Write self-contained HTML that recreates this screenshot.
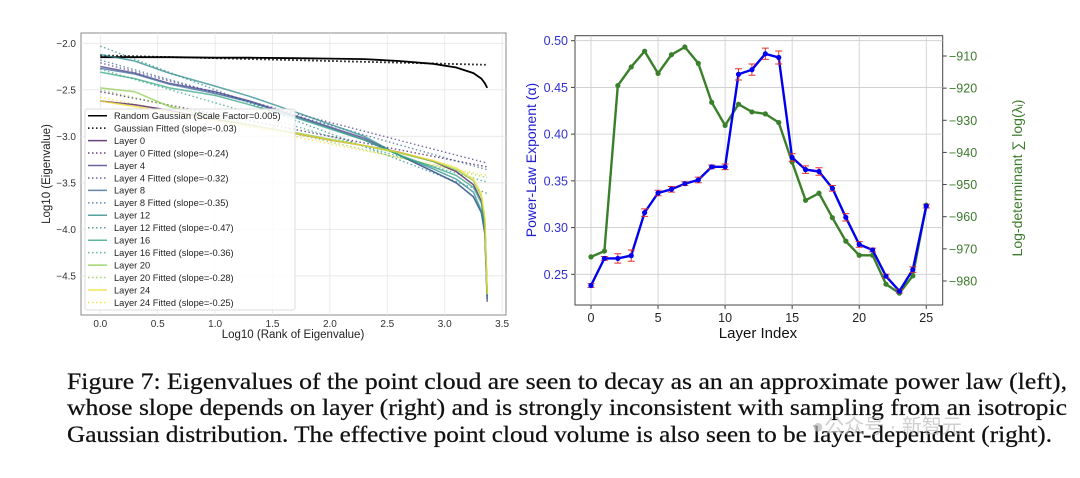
<!DOCTYPE html>
<html><head><meta charset="utf-8"><style>
body{margin:0;background:#fff;width:1080px;height:478px;overflow:hidden}
svg{display:block;font-family:"Liberation Sans","DejaVu Sans",sans-serif}
</style></head><body>
<svg id="s" width="1080" height="478" viewBox="0 0 1080 478">
<g id="left"></g>
<g id="right"></g>
<g font-family="'Liberation Serif',serif" font-size="23.5" fill="#111" stroke="#111" stroke-width="0.25">
<text x="67" y="389" textLength="1000" lengthAdjust="spacingAndGlyphs">Figure 7: Eigenvalues of the point cloud are seen to decay as an an approximate power law (left),</text>
<text x="67" y="415" textLength="1000" lengthAdjust="spacingAndGlyphs">whose slope depends on layer (right) and is strongly inconsistent with sampling from an isotropic</text>
<text x="67" y="442" textLength="985" lengthAdjust="spacingAndGlyphs">Gaussian distribution. The effective point cloud volume is also seen to be layer-dependent (right).</text>
</g>
<text x="812" y="433" font-family="'Liberation Sans','Noto Sans CJK SC',sans-serif" font-size="20" fill="#bbb" opacity="0.7">●公众号 · 新智元</text>
</svg>
<script>
// ---- left chart data ----
const rankX=[0,0.3,0.6,1.0,1.3,1.7,2.0,2.3,2.6,2.9,3.1,3.25,3.32,3.35,3.37];
const gaussY=[-2.15,-2.15,-2.15,-2.155,-2.155,-2.16,-2.165,-2.17,-2.19,-2.22,-2.26,-2.32,-2.38,-2.43,-2.48];
const layer0=[-2.62,-2.66,-2.72,-2.82,-2.88,-2.97,-3.04,-3.10,-3.17,-3.27,-3.38,-3.52,-3.7,-3.95,-4.72];
const layer4=[-2.25,-2.32,-2.43,-2.52,-2.62,-2.78,-2.9,-3.02,-3.2,-3.38,-3.5,-3.65,-3.82,-4.05,-4.78];
const layer8=[-2.27,-2.33,-2.44,-2.54,-2.63,-2.79,-2.91,-3.04,-3.2,-3.38,-3.5,-3.65,-3.82,-4.05,-4.75];
const layer12=[-2.12,-2.19,-2.32,-2.46,-2.57,-2.74,-2.87,-3.00,-3.2,-3.35,-3.46,-3.6,-3.8,-4.0,-4.72];
const layer16=[-2.31,-2.38,-2.48,-2.56,-2.66,-2.8,-2.92,-3.04,-3.2,-3.33,-3.42,-3.55,-3.72,-3.95,-4.7];
const layer20=[-2.48,-2.52,-2.68,-2.80,-2.88,-2.96,-3.03,-3.10,-3.18,-3.27,-3.36,-3.48,-3.65,-3.9,-4.7];
const layer24=[-2.62,-2.68,-2.74,-2.83,-2.89,-2.97,-3.04,-3.10,-3.17,-3.26,-3.34,-3.46,-3.62,-3.88,-4.7];
const fitIntercepts=[-2.13,-2.52,-2.21,-2.18,-2.03,-2.28,-2.50,-2.58];
const fitSlopes=[-0.03,-0.24,-0.32,-0.35,-0.47,-0.36,-0.28,-0.25];
const leftXTicks=[0,0.5,1,1.5,2,2.5,3,3.5];
const leftXTickLabels=["0.0","0.5","1.0","1.5","2.0","2.5","3.0","3.5"];
const leftYTicks=[-2,-2.5,-3,-3.5,-4,-4.5];
const leftYTickLabels=["−2.0","−2.5","−3.0","−3.5","−4.0","−4.5"];
const legendLabels=["Random Gaussian (Scale Factor=0.005)","Gaussian Fitted (slope=-0.03)","Layer 0","Layer 0 Fitted (slope=-0.24)","Layer 4","Layer 4 Fitted (slope=-0.32)","Layer 8","Layer 8 Fitted (slope=-0.35)","Layer 12","Layer 12 Fitted (slope=-0.47)","Layer 16","Layer 16 Fitted (slope=-0.36)","Layer 20","Layer 20 Fitted (slope=-0.28)","Layer 24","Layer 24 Fitted (slope=-0.25)"];
// ---- right chart data ----
const layerIdx=[0,1,2,3,4,5,6,7,8,9,10,11,12,13,14,15,16,17,18,19,20,21,22,23,24,25];
const alphaVals=[0.238,0.267,0.267,0.270,0.316,0.337,0.341,0.347,0.351,0.365,0.365,0.464,0.469,0.486,0.482,0.375,0.362,0.360,0.342,0.311,0.282,0.276,0.248,0.232,0.255,0.323];
const alphaErr=[0.002,0.002,0.005,0.006,0.004,0.003,0.003,0.002,0.003,0.002,0.003,0.006,0.006,0.006,0.007,0.004,0.004,0.004,0.003,0.004,0.003,0.002,0.002,0.002,0.003,0.002];
const logdetVals=[-972.5,-970.7,-919.2,-913.4,-908.5,-915.4,-909.6,-907.2,-912.3,-924.4,-931.6,-925.0,-927.4,-928.0,-930.7,-943.0,-954.9,-952.7,-960.3,-967.6,-972.0,-972.0,-981.0,-983.8,-978.4,-956.4];
const rightXTicks=[0,5,10,15,20,25];
const alphaTicks=[0.25,0.30,0.35,0.40,0.45,0.50];
const alphaTickLabels=["0.25","0.30","0.35","0.40","0.45","0.50"];
const logdetTicks=[-910,-920,-930,-940,-950,-960,-970,-980];
const logdetTickLabels=["−910","−920","−930","−940","−950","−960","−970","−980"];

const NS="http://www.w3.org/2000/svg";
function mk(p,t,a){const e=document.createElementNS(NS,t);for(const k in a)e.setAttribute(k,a[k]);p.appendChild(e);return e;}
const L=document.getElementById('left'),R=document.getElementById('right');
const lx=v=>100.3+v*114.8, ly=v=>43.3+(-2-v)*93;
let e;
e=mk(L,'rect',{x:81,y:33,width:425,height:282,fill:'#fff',stroke:'#888','stroke-width':1});

leftXTicks.forEach((t,i)=>{
 mk(L,'line',{x1:lx(t),x2:lx(t),y1:33,y2:315,stroke:'#e6e6e6','stroke-width':0.8});
 e=mk(L,'text',{x:lx(t),y:327,'font-size':10,'text-anchor':'middle',fill:'#333'});e.textContent=leftXTickLabels[i];
 
});
leftYTicks.forEach((t,i)=>{
 mk(L,'line',{x1:81,x2:506,y1:ly(t),y2:ly(t),stroke:'#e6e6e6','stroke-width':0.8});
 e=mk(L,'text',{x:76,y:ly(t)+3.5,'font-size':10,'text-anchor':'end',fill:'#333'});e.textContent=leftYTickLabels[i];
 
});
e=mk(L,'text',{x:293,y:338,'font-size':11.5,'text-anchor':'middle',fill:'#222'});e.textContent='Log10 (Rank of Eigenvalue)';

e=mk(L,'text',{x:0,y:0,'font-size':11.5,'text-anchor':'middle',fill:'#222',transform:'translate(50,174) rotate(-90)'});e.textContent='Log10 (Eigenvalue)';

const colors=['#000','#46115e','#4a3a8a','#3d6b98','#2c8a8c','#35a586','#8ccc4e','#f3de2c'];
const series=[gaussY,layer0,layer4,layer8,layer12,layer16,layer20,layer24];
fitSlopes.forEach((s,i)=>{
 e=mk(L,'line',{x1:lx(0),y1:ly(fitIntercepts[i]),x2:lx(3.37),y2:ly(fitIntercepts[i]+s*3.37),stroke:colors[i],'stroke-width':i?1.4:1.8,'stroke-dasharray':'1.5 2.5',opacity:i?0.75:1});
 
});
series.forEach((ser,i)=>{
 const d=ser.map((v,j)=>(j?'L':'M')+lx(rankX[j]).toFixed(1)+','+ly(v).toFixed(1)).join('');
 e=mk(L,'path',{d:d,fill:'none',stroke:colors[i],'stroke-width':i?1.5:1.8,opacity:i?0.75:1});
 
});
e=mk(L,'rect',{x:85,y:109,width:210,height:201,fill:'#fff','fill-opacity':0.85,stroke:'#ddd',rx:2});

legendLabels.forEach((t,i)=>{
 const y=115.7+i*12.45, c=colors[Math.floor(i/2)];
 mk(L,'line',{x1:88,x2:107,y1:y,y2:y,stroke:c,'stroke-width':1.5,'stroke-dasharray':i%2?'1.5 2.5':'none',opacity:i<2?1:0.8});
 e=mk(L,'text',{x:114,y:y+3.3,'font-size':9.3,fill:'#222'});e.textContent=t;
 
});
const rx=v=>591+v*13.41, ryA=v=>40.7+(0.5-v)*934.4, ryB=v=>56+(-910-v)*3.214;
e=mk(R,'rect',{x:575,y:35.7,width:367.7,height:269.3,fill:'#fff',stroke:'#444','stroke-width':1});

rightXTicks.forEach(t=>{
 mk(R,'line',{x1:rx(t),x2:rx(t),y1:35.7,y2:305,stroke:'#ccc','stroke-width':0.8});
 mk(R,'line',{x1:rx(t),x2:rx(t),y1:305,y2:309,stroke:'#444'});
 e=mk(R,'text',{x:rx(t),y:322,'font-size':12.5,'text-anchor':'middle',fill:'#222'});e.textContent=String(t);
 
});
alphaTicks.forEach((t,i)=>{
 mk(R,'line',{x1:575,x2:942.7,y1:ryA(t),y2:ryA(t),stroke:'#ccc','stroke-width':0.8});
 mk(R,'line',{x1:571,x2:575,y1:ryA(t),y2:ryA(t),stroke:'#444'});
 e=mk(R,'text',{x:568,y:ryA(t)+4.5,'font-size':12.5,'text-anchor':'end',fill:'#3030d0'});e.textContent=alphaTickLabels[i];
 
});
logdetTicks.forEach((t,i)=>{
 mk(R,'line',{x1:942.7,x2:946.7,y1:ryB(t),y2:ryB(t),stroke:'#444'});
 e=mk(R,'text',{x:949,y:ryB(t)+4.5,'font-size':12.5,fill:'#3d7a2c'});e.textContent=logdetTickLabels[i];
 
});
e=mk(R,'text',{x:758,y:338,'font-size':15,'text-anchor':'middle',fill:'#111'});e.textContent='Layer Index';

e=mk(R,'text',{x:0,y:0,'font-size':14,'text-anchor':'middle',fill:'#2020d0',transform:'translate(536,160) rotate(-90)'});e.textContent='Power-Law Exponent (α)';

e=mk(R,'text',{x:0,y:0,'font-size':14,'text-anchor':'middle',fill:'#3d7a2c',transform:'translate(1022,178) rotate(-90)'});e.textContent='Log-determinant ∑ log(λᵢ)';

e=mk(R,'path',{d:logdetVals.map((v,i)=>(i?'L':'M')+rx(layerIdx[i]).toFixed(1)+','+ryB(v).toFixed(1)).join(''),fill:'none',stroke:'#3a7f2a','stroke-width':2.4});

logdetVals.forEach((v,i)=>{e=mk(R,'circle',{cx:rx(layerIdx[i]),cy:ryB(v),r:2.6,fill:'#3a7f2a'});
 });
e=mk(R,'path',{d:alphaVals.map((v,i)=>(i?'L':'M')+rx(layerIdx[i]).toFixed(1)+','+ryA(v).toFixed(1)).join(''),fill:'none',stroke:'#0000ee','stroke-width':2.4});

alphaVals.forEach((v,i)=>{
 const x=rx(layerIdx[i]),y1=ryA(v+alphaErr[i]),y2=ryA(v-alphaErr[i]);
 e=mk(R,'path',{d:`M${x},${y1}L${x},${y2}M${x-3.5},${y1}L${x+3.5},${y1}M${x-3.5},${y2}L${x+3.5},${y2}`,stroke:'#e03030','stroke-width':1,fill:'none'});
 
 e=mk(R,'circle',{cx:x,cy:ryA(v),r:2.6,fill:'#0000ee'});
 
});
</script>
</body></html>
